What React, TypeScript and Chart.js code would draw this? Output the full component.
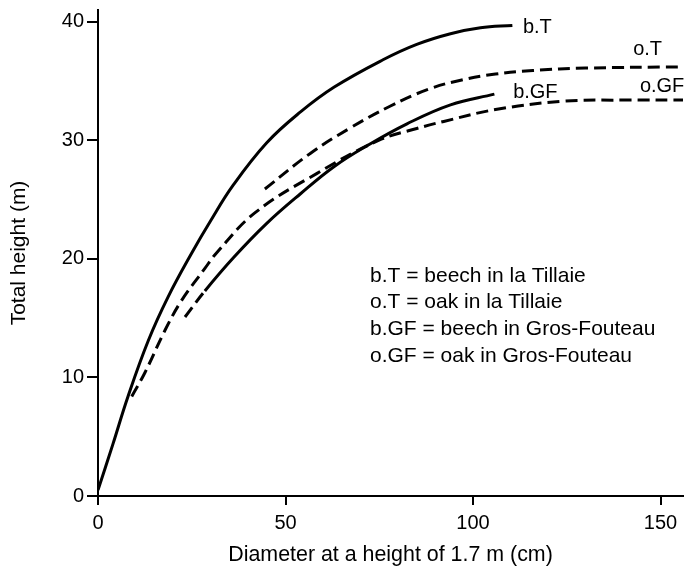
import React, { useEffect, useRef } from "react";
import { Chart, registerables } from "chart.js";

Chart.register(...registerables);

const FONT = '"Liberation Sans", Arial, Helvetica, sans-serif';

// Height–diameter curves: diameter at 1.7 m (cm) against total height (m)

// b.T – beech in la Tillaie
const beechTillaieDiam = [0, 4, 8, 13.4, 18.7, 25, 30, 36, 45, 54, 63, 76, 85, 94, 102, 110.5];
const beechTillaieHeight = [0.5, 4.4, 8.4, 13.1, 16.8, 20.5, 23.2, 26.2, 29.8, 32.4, 34.5, 36.8, 38.1, 39.0, 39.5, 39.7];

// o.T – oak in la Tillaie
const oakTillaieDiam = [44.5, 56.6, 67, 78, 88, 97, 106, 116, 130, 155];
const oakTillaieHeight = [25.9, 28.9, 31.0, 32.9, 34.3, 35.1, 35.6, 35.9, 36.1, 36.2];

// b.GF – beech in Gros-Fouteau (first stretch drawn dashed)
const beechGrosFouteauDiam = [23.2, 28.5, 36.1, 45, 54, 63, 72, 82.4, 94, 105.7];
const beechGrosFouteauHeight = [15.1, 17.3, 20.1, 23, 25.5, 27.8, 29.6, 31.4, 33.0, 33.9];

// o.GF – oak in Gros-Fouteau
const oakGrosFouteauDiam = [9, 12.5, 17.9, 22.3, 28.5, 31.6, 41.9, 58.3, 74.8, 85, 92.2, 106, 124, 140, 158.7];
const oakGrosFouteauHeight = [8.4, 10.4, 14.0, 16.5, 19.2, 20.5, 23.9, 27.2, 30.0, 31.0, 31.6, 32.6, 33.3, 33.4, 33.4];

const xTicks = [0, 50, 100, 150];
const yTicks = [0, 10, 20, 30, 40];

const curveLabels = ["b.T", "o.T", "b.GF", "o.GF"];
const legendLines = [
  "b.T = beech in la Tillaie",
  "o.T = oak in la Tillaie",
  "b.GF = beech in Gros-Fouteau",
  "o.GF = oak in Gros-Fouteau",
];

const toPoints = (xs: number[], ys: number[]) => xs.map((x, i) => ({ x, y: ys[i] }));

// where each curve's name sits, in data units (diameter, height at baseline)
const curveLabelAnchors = [
  { x: 113.3, y: 39.06 },
  { x: 142.7, y: 37.2 },
  { x: 110.7, y: 33.6 },
  { x: 144.5, y: 34.1 },
];

const DASH = [12, 6];

const textPlugin = {
  id: "curveText",
  afterDraw(chart: any) {
    const { ctx, scales, chartArea } = chart;
    ctx.save();
    ctx.fillStyle = "#000";
    ctx.textAlign = "left";
    ctx.textBaseline = "alphabetic";
    ctx.font = `20px ${FONT}`;
    curveLabels.forEach((label, i) => {
      const a = curveLabelAnchors[i];
      ctx.fillText(label, scales.x.getPixelForValue(a.x), scales.y.getPixelForValue(a.y));
    });
    ctx.font = `21px ${FONT}`;
    const left = chartArea.left + 272;
    const firstBaseline = chartArea.top + 271.5;
    legendLines.forEach((line, i) => {
      ctx.fillText(line, left, firstBaseline + i * 26.7);
    });
    ctx.restore();
  },
};

export default function App() {
  const canvasRef = useRef<HTMLCanvasElement | null>(null);

  useEffect(() => {
    if (!canvasRef.current) return;
    const lineBase = {
      borderColor: "#000",
      borderWidth: 3,
      pointRadius: 0,
      fill: false,
      tension: 0.4,
      borderCapStyle: "butt" as const,
    };
    const chart = new Chart(canvasRef.current, {
      type: "line",
      data: {
        datasets: [
          { ...lineBase, label: curveLabels[0], data: toPoints(beechTillaieDiam, beechTillaieHeight) },
          { ...lineBase, label: curveLabels[1], data: toPoints(oakTillaieDiam, oakTillaieHeight), borderDash: DASH },
          {
            ...lineBase,
            label: curveLabels[2],
            data: toPoints(beechGrosFouteauDiam, beechGrosFouteauHeight),
            segment: { borderDash: (c: any) => (c.p1DataIndex <= 1 ? DASH : []) },
          },
          { ...lineBase, label: curveLabels[3], data: toPoints(oakGrosFouteauDiam, oakGrosFouteauHeight), borderDash: DASH },
        ],
      },
      options: {
        responsive: false,
        animation: false,
        devicePixelRatio: 1,
        layout: { padding: { top: 10, right: 17, left: 0, bottom: 0 } },
        plugins: { legend: { display: false }, tooltip: { enabled: false } },
        scales: {
          x: {
            type: "linear",
            min: 0,
            max: 156,
            afterBuildTicks: (s: any) => {
              s.ticks = xTicks.map((v) => ({ value: v }));
            },
            afterFit: (s: any) => {
              s.height = 72;
              s.paddingLeft = 0;
              s.paddingRight = 0;
            },
            ticks: { color: "#000", font: { size: 20, family: FONT }, padding: 6, maxRotation: 0 },
            grid: { drawOnChartArea: false, drawTicks: true, tickLength: 9, color: "#000", lineWidth: 2 },
            border: { display: true, color: "#000", width: 2 },
            title: {
              display: true,
              text: "Diameter at a height of 1.7 m (cm)",
              color: "#000",
              font: { size: 21.4, family: FONT },
              padding: { top: 0, bottom: 0 },
            },
          },
          y: {
            type: "linear",
            min: 0,
            max: 41,
            afterBuildTicks: (s: any) => {
              s.ticks = yTicks.map((v) => ({ value: v }));
            },
            afterFit: (s: any) => {
              s.width = 98;
              s.paddingTop = 0;
              s.paddingBottom = 0;
            },
            ticks: { color: "#000", font: { size: 20, family: FONT }, padding: 3 },
            grid: { drawOnChartArea: false, drawTicks: true, tickLength: 11, color: "#000", lineWidth: 2 },
            border: { display: true, color: "#000", width: 2 },
            title: {
              display: true,
              text: "Total height (m)",
              color: "#000",
              font: { size: 21, family: FONT },
              padding: { top: 7, bottom: 0 },
            },
          },
        },
      },
      plugins: [textPlugin],
    });
    return () => chart.destroy();
  }, []);

  return (
    <div style={{ position: "absolute", left: 0, top: 0, width: 700, height: 568, background: "#fff" }}>
      <canvas ref={canvasRef} width={700} height={568} />
    </div>
  );
}
